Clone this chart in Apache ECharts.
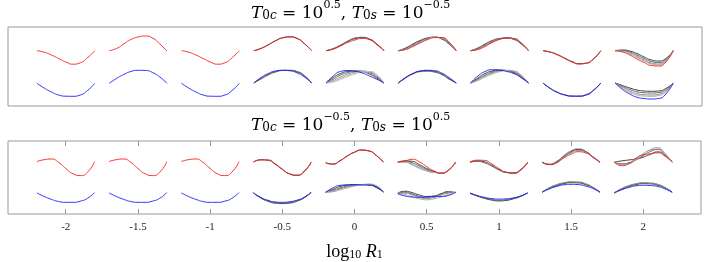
<!DOCTYPE html>
<html>
<head>
<meta charset="utf-8">
<script src="https://cdn.jsdelivr.net/npm/echarts@6/dist/echarts.min.js"></script>
<style>html,body{margin:0;padding:0;background:#fff}#c{width:706px;height:262px}</style>
</head>
<body>
<div id="c"></div>
<script>
// ---- data ----
const centers = [-2, -1.5, -1, -0.5, 0, 0.5, 1, 1.5, 2];
const offsets = [-0.2, -0.15, -0.1, -0.05, 0, 0.05, 0.1, 0.15, 0.2];
const tickValues = [-2, -1.5, -1, -0.5, 0, 0.5, 1, 1.5, 2];

const topRed = [
  [55.3, 53.8, 51, 47.5, 44, 41.8, 43.2, 48.3, 55.3],
  [55.3, 57.5, 62, 66.5, 69, 70, 68, 62, 54.8],
  [55.3, 53.8, 51, 47.5, 44, 41.8, 43.2, 48.3, 55.3],
  [55.3, 57.5, 61, 65, 68, 69, 67.5, 62.5, 55.3],
  [55.3, 57, 60, 63.5, 66, 67.5, 66.5, 62, 55.3],
  [55.3, 56.5, 59.5, 63, 66.3, 68.3, 68.5, 64, 55.3],
  [55.3, 56.5, 59.5, 63.5, 66.5, 68, 67.5, 63, 55.3],
  [55.3, 53.8, 51, 47.5, 44, 42, 43, 47.5, 55.3],
  [55.3, 54, 51, 47, 43.5, 40.5, 40, 44, 55.3]
];
const topBlue = [
  [22.7, 18, 14, 11, 9.8, 9.7, 11, 15.5, 22.7],
  [22.7, 27.5, 31.5, 34.5, 35.7, 35.5, 33.5, 29, 22.7],
  [22.7, 18, 14, 11, 9.8, 9.7, 11, 15.5, 22.7],
  [23, 28.5, 32.5, 35, 35.7, 35.2, 33, 29, 23],
  [23, 30, 34.5, 35.5, 34.8, 33, 30, 26.8, 23],
  [23, 28.5, 32.5, 35, 35.7, 35.3, 33, 28.5, 23],
  [23, 30, 34.5, 36.3, 35.8, 34.5, 32.3, 28.3, 23],
  [23, 17.5, 13.5, 11, 9.8, 9.9, 11.5, 16, 23],
  [23, 16.5, 12, 8.8, 7.5, 7, 7.5, 12, 23]
];
const topRedGrey = [
  [], [], [],
  [[55.3, 57.7, 61.3, 65.3, 68.3, 69.2, 67.5, 62.3, 55.3]],
  [[55.3, 57.2, 60.5, 64.5, 67.3, 68.5, 67, 62, 55.3],
   [55.3, 57.5, 61, 65, 68, 68.7, 66.5, 61.5, 55.3]],
  [[55.3, 58, 62, 65.5, 68, 68.8, 67, 62, 55.3],
   [55.3, 57.5, 61, 64.8, 67.5, 68.8, 67.5, 62.5, 55.3],
   [55.3, 57, 60.3, 64, 67, 68.7, 68, 63, 55.3],
   [55.3, 56.7, 59.8, 63.5, 66.7, 68.5, 68.2, 63.5, 55.3]],
  [[55.3, 58, 62, 65.5, 67.5, 68, 66.5, 62, 55.3],
   [55.3, 57.3, 61, 64.5, 67, 68, 67, 62.5, 55.3],
   [55.3, 57, 60.3, 64, 66.8, 68, 67.2, 62.8, 55.3]],
  [[55.3, 54, 51.5, 48, 44.5, 42.3, 42.8, 47, 55.3]],
  [[55.3, 56, 55, 52.5, 49, 46, 45, 47.5, 55.3],
   [55.3, 55.5, 54, 51, 47.5, 44.5, 43.5, 46.5, 55.3],
   [55.3, 55, 53, 49.5, 46, 43, 42, 45.5, 55.3],
   [55.3, 54.5, 52, 48.5, 45, 42, 41, 45, 55.3]]
];
const topBlueGrey = [
  [], [], [],
  [[23, 27.5, 31.5, 34.3, 35.6, 35.5, 34, 30, 23],
   [23, 27, 31, 34, 35.5, 35.7, 34.5, 30.5, 23]],
  [[23, 28.5, 32.5, 34.5, 35, 34.3, 32, 28, 23],
   [23, 27, 31, 33.5, 34.8, 34.8, 33.3, 29, 23],
   [23, 25.5, 29, 32, 34, 34.8, 34, 30, 23],
   [23, 24.5, 27.5, 30.5, 32.8, 34.3, 34.3, 31, 23],
   [23, 24, 26.5, 29.5, 32, 33.8, 34.3, 31.5, 23]],
  [[23, 28.3, 32.3, 34.7, 35.3, 34.5, 32, 27.5, 23],
   [23, 28, 32, 34.3, 34.8, 33.8, 31.3, 26.8, 23]],
  [[23, 28, 32.5, 35, 36, 35.3, 33, 28.5, 23],
   [23, 27, 31, 34, 35.5, 35.5, 33.8, 29.3, 23],
   [23, 26, 30, 33, 35, 35.7, 34.5, 30, 23],
   [23, 25.5, 29, 32, 34.3, 35.5, 35, 30.8, 23]],
  [[23, 17.8, 13.8, 11.2, 10, 9.8, 11, 15.5, 23]],
  [[23, 20.5, 18, 16, 15, 14.7, 15, 17.5, 23],
   [23, 19.5, 16.5, 14.3, 13.3, 13, 13.5, 16.5, 23],
   [23, 18.5, 14.8, 12.5, 11.3, 11, 11.8, 15, 23],
   [23, 17.5, 13.5, 11, 10, 9.7, 10.5, 14, 23]]
];

const botRed = [
  [55.3, 57.3, 58, 54.5, 48, 42.5, 40.5, 44, 55.3],
  [55.3, 57.3, 58, 54.5, 48, 42.5, 40.5, 44, 55.3],
  [55.3, 57.3, 58, 54.5, 48, 42.5, 40.5, 44, 55.3],
  [54.7, 57, 56.5, 52.5, 47, 42.5, 41, 45, 54.7],
  [54, 52.5, 56, 61, 65, 67.3, 66.5, 62, 54.7],
  [54.7, 56, 57.7, 55, 50, 45.5, 43, 46, 54.7],
  [54.7, 56.8, 56.5, 53, 48, 44, 43, 46, 54.7],
  [54.7, 52, 54, 59, 63, 65.7, 64.5, 60, 54.7],
  [54.7, 51, 53, 59, 62.5, 63.5, 64.5, 61, 54.7]
];
const botBlue = [
  [22.3, 18.5, 15.5, 13.2, 12.3, 12.3, 13.5, 16.5, 22.7],
  [22.3, 18.5, 15.5, 13.2, 12.3, 12.3, 13.5, 16.5, 22.7],
  [22.3, 18.5, 15.5, 13.2, 12.3, 12.3, 13.5, 16.5, 22.7],
  [22.3, 17.5, 14.5, 12.7, 12.3, 13, 14.5, 17.5, 23],
  [23, 27.5, 30.2, 30.7, 30.8, 30.7, 30.5, 28.5, 23],
  [21.3, 19, 18, 17.7, 18, 18.5, 18.5, 19.5, 23],
  [22, 19.5, 17.5, 16.3, 15.7, 16, 17, 19, 22.3],
  [23, 26.5, 29, 30.8, 31.3, 31, 29.5, 27, 23],
  [22.3, 25.5, 28, 29.7, 30.3, 30, 29, 26.5, 23]
];
const botRedGrey = [
  [], [], [],
  [[54.7, 57.2, 57, 53, 47.3, 42.3, 40.8, 44.5, 54.7]],
  [[54, 52.8, 56.3, 61.3, 65.3, 67.5, 66.5, 61.8, 54.7]],
  [[54.7, 56, 55.5, 52, 48, 45, 43.3, 46, 54.7],
   [54.7, 55.5, 54, 50.5, 47, 44.5, 43.3, 46, 54.7],
   [54.7, 55, 52.5, 49, 46, 44, 43.3, 46.2, 54.7],
   [54.7, 54.5, 51.5, 48, 45.3, 43.7, 43.5, 46.5, 54.7]],
  [[54.7, 56, 55, 51.5, 47, 44, 43.3, 46.5, 54.7],
   [54.7, 55.5, 54, 50.5, 46.5, 44, 43.5, 46.8, 54.7]],
  [[54.7, 52.3, 55, 60.5, 65.5, 68, 66, 60.5, 54.7],
   [54.7, 52.5, 55.5, 61.5, 66.5, 68.5, 66, 60, 54.7],
   [54.7, 52.2, 54.5, 60, 64.5, 67, 65.5, 60.5, 54.7]],
  [[54.7, 56, 57, 58, 60, 63, 65.5, 62, 54.7],
   [54.7, 53, 54, 57, 61.5, 66, 68, 63, 54.7],
   [54.7, 52.5, 53.5, 58, 63.5, 67.5, 68.5, 63, 54.7],
   [54.7, 52, 53, 57.5, 63, 68, 70, 64, 54.7]]
];
const botBlueGrey = [
  [], [], [],
  [[22.3, 17, 13.5, 11.5, 11, 11.5, 13.5, 17, 23],
   [22.3, 17.2, 14, 12, 11.5, 12, 14, 17.2, 23]],
  [[23, 26, 29, 30.5, 31, 31, 30.5, 28, 23],
   [23, 25, 27.5, 29.5, 30.5, 31, 31, 29, 23],
   [23, 24, 26.5, 28.5, 30, 31, 31.3, 29.5, 23],
   [23, 23.5, 25.5, 27.5, 29.5, 30.8, 31.5, 30, 23]],
  [[22, 24, 22.5, 20, 18.5, 19, 21.5, 23.5, 22.5],
   [21.5, 23, 21, 18.5, 17, 18, 21, 23, 22.5],
   [21.5, 22, 20, 17.5, 16.5, 17.5, 20, 22, 22.8],
   [21.5, 20.5, 18, 16, 15, 16, 18, 20.5, 23]],
  [[22, 19, 16.5, 14.7, 13.8, 14.3, 16, 18.5, 22.3],
   [22, 19.2, 17, 15.3, 14.5, 15, 16.5, 18.8, 22.3]],
  [[23, 27.2, 30, 32, 33, 32.8, 31, 27.8, 23],
   [23, 27.5, 30.5, 32.5, 33.5, 33.3, 31.5, 28, 23],
   [23, 27.8, 31, 33, 34, 33.8, 32, 28.5, 23]],
  [[22.3, 26, 29, 31, 32, 31.8, 30.3, 27.5, 23],
   [22.3, 26.5, 29.5, 31.5, 32.5, 32.3, 31, 28, 23],
   [22.3, 26.8, 30, 32, 33, 32.7, 31.3, 28, 23]]
];

const greyShades = ['#3c3c3c', '#666666', '#8a8a8a', '#aaaaaa', '#c8c8c8'];

// ---- build ----
function curve(ci, ys) {
  return ys.map((y, i) => [centers[ci] + offsets[i], y]);
}
const series = [];
function addLine(gi, data, color, z, w) {
  series.push({
    type: 'line', xAxisIndex: gi === 0 ? 0 : 1, yAxisIndex: gi,
    data: data, smooth: 0.6, showSymbol: false, symbol: 'none',
    silent: true, animation: false, z: z,
    lineStyle: { color: color, width: w }
  });
}
function addPanel(gi, red, blue, redGrey, blueGrey) {
  for (let c = 0; c < centers.length; c++) {
    redGrey[c].forEach((g, k) => addLine(gi, curve(c, g), greyShades[k % greyShades.length], 2, 1));
    blueGrey[c].forEach((g, k) => addLine(gi, curve(c, g), greyShades[k % greyShades.length], 2, 1));
  }
  for (let c = 0; c < centers.length; c++) {
    addLine(gi, curve(c, red[c]), '#ff1a1a', 3, 0.9);
    addLine(gi, curve(c, blue[c]), '#1a1aff', 3, 0.9);
  }
}
addPanel(0, topRed, topBlue, topRedGrey, topBlueGrey);
addPanel(1, botRed, botBlue, botRedGrey, botBlueGrey);

const serif = 'Liberation Serif';
const mathFont = 'DejaVu Serif';
const base = { fontFamily: serif, color: '#000', fontWeight: 'normal' };
const mbase = { fontFamily: mathFont, color: '#000', fontWeight: 'normal' };
const richMath = {
  n: Object.assign({}, mbase, { fontSize: 17, lineHeight: 22, verticalAlign: 'bottom' }),
  i: Object.assign({}, mbase, { fontSize: 17, fontStyle: 'italic', lineHeight: 22, verticalAlign: 'bottom' }),
  sub: Object.assign({}, mbase, { fontSize: 12, lineHeight: 18, verticalAlign: 'bottom' }),
  isub: Object.assign({}, mbase, { fontSize: 12, fontStyle: 'italic', lineHeight: 18, verticalAlign: 'bottom' }),
  sup: Object.assign({}, mbase, { fontSize: 11, lineHeight: 12, verticalAlign: 'top' })
};

const chart = echarts.init(document.getElementById('c'), null, { renderer: 'canvas' });
chart.setOption({
  animation: false,
  backgroundColor: '#fff',
  title: [
    { text: '{i|T}{sub|0}{isub|c}{n| = 10}{sup|0.5}{n|, }{i|T}{sub|0}{isub|s}{n| = 10}{sup|\u22120.5}',
      left: 251, top: 0, padding: 0, textStyle: { fontWeight: 'normal', rich: richMath } },
    { text: '{i|T}{sub|0}{isub|c}{n| = 10}{sup|\u22120.5}{n|, }{i|T}{sub|0}{isub|s}{n| = 10}{sup|0.5}',
      left: 251, top: 112, padding: 0, textStyle: { fontWeight: 'normal', rich: richMath } }
  ],
  grid: [
    { left: 8, top: 27, width: 694, height: 79, show: true, borderColor: '#9a9a9a', borderWidth: 1, backgroundColor: 'transparent' },
    { left: 8, top: 141, width: 693, height: 77, show: true, borderColor: '#9a9a9a', borderWidth: 1, backgroundColor: 'transparent' }
  ],
  xAxis: [
    { type: 'value', gridIndex: 0, min: -2.4, max: 2.4, axisLine: { show: false }, axisTick: { show: false },
      axisLabel: { show: false }, splitLine: { show: false } },
    { type: 'value', gridIndex: 1, min: -2.4, max: 2.4, position: 'bottom',
      axisLine: { show: false }, splitLine: { show: false },
      axisTick: { show: true, inside: true, length: 5, customValues: tickValues, lineStyle: { color: '#9a9a9a' } },
      axisLabel: { show: true, customValues: tickValues, margin: 8, fontFamily: serif, fontSize: 11, color: '#222',
        formatter: v => String(v) },
      name: '{n|log}{sub|10}{n| }{i|R}{isub|1}', nameLocation: 'middle', nameGap: 25,
      nameTextStyle: { rich: {
        n: Object.assign({}, base, { fontSize: 18, lineHeight: 22, verticalAlign: 'bottom' }),
        i: Object.assign({}, base, { fontSize: 18, fontStyle: 'italic', lineHeight: 22, verticalAlign: 'bottom' }),
        sub: Object.assign({}, base, { fontSize: 12, lineHeight: 17, verticalAlign: 'bottom' }),
        isub: Object.assign({}, base, { fontSize: 12, lineHeight: 17, verticalAlign: 'bottom' })
      } } },
    { type: 'value', gridIndex: 1, min: -2.4, max: 2.4, position: 'top',
      axisLine: { show: false }, splitLine: { show: false }, axisLabel: { show: false },
      axisTick: { show: true, inside: true, length: 5, customValues: tickValues, lineStyle: { color: '#9a9a9a' } } }
  ],
  yAxis: [
    { type: 'value', gridIndex: 0, min: 0, max: 79, show: false },
    { type: 'value', gridIndex: 1, min: 0, max: 77, show: false }
  ],
  series: series
});
</script>
</body>
</html>
